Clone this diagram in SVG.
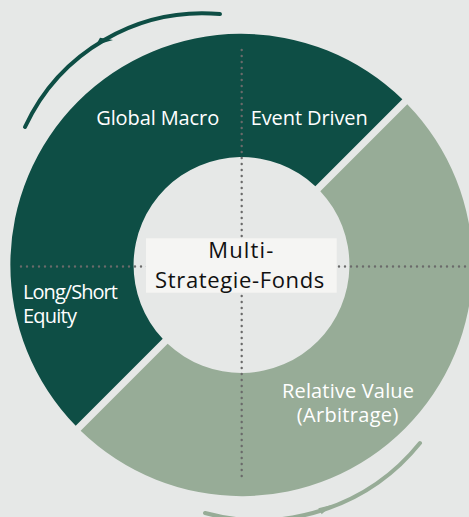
<svg xmlns="http://www.w3.org/2000/svg" width="469" height="517" viewBox="0 0 469 517">
  <style>
    .dark { fill: #0e4e45; }
    .light { fill: #97ac97; }
    .dots { fill: none; stroke: #6a6a6a; stroke-width: 2.4; stroke-linecap: round; stroke-dasharray: 0 6; }
    .label { font-family: "Open Sans", "Noto Sans", "Liberation Sans", sans-serif; font-size: 20px; fill: #ffffff; }
    .center { font-family: "Open Sans", "Noto Sans", "Liberation Sans", sans-serif; font-size: 22px; fill: #111111; text-anchor: middle; }
    .arc { fill: none; stroke-width: 4; stroke-linecap: round; }
  </style>
  <rect width="469" height="517" fill="#e6e8e7"/>

  <g id="connectors">
    <path class="arc" stroke="#0e4e45" d="M 25 127 A 196 196 0 0 1 220 14"/>
    <polygon fill="#0e4e45" points="100,37.7 96,45 113,40"/>
    <path class="arc" stroke="#97ac97" d="M 420 443 A 206.6 206.6 0 0 1 205 513"/>
    <polygon fill="#97ac97" points="318.3,508.3 321.7,514.3 331.7,505"/>
  </g>

  <g id="segment-dark">
    <path class="dark" d="M 402.35 99.2 A 231 231 0 0 0 75.7 425.85 L 162.7 338.85 A 108 108 0 0 1 315.35 186.2 Z"/>
  </g>
  <g id="segment-light">
    <path class="light" d="M 80.65 430.8 A 231 231 0 0 0 407.3 104.15 L 320.3 191.15 A 108 108 0 0 1 167.65 343.8 Z"/>
  </g>

  <g id="axes">
    <line class="dots" x1="241.7" y1="50" x2="241.7" y2="478"/>
    <line class="dots" x1="21" y1="266.5" x2="469" y2="266.5"/>
  </g>

  <g id="global-macro">
    <text class="label" x="157.7" y="125" text-anchor="middle" textLength="123">Global Macro</text>
  </g>
  <g id="event-driven">
    <text class="label" x="250.7" y="125" textLength="117">Event Driven</text>
  </g>
  <g id="long-short-equity">
    <text class="label" x="23" y="298.5" textLength="95">Long/Short</text>
    <text class="label" x="23" y="323" textLength="54">Equity</text>
  </g>
  <g id="relative-value">
    <text class="label" x="348" y="397.7" text-anchor="middle" textLength="132">Relative Value</text>
    <text class="label" x="347.5" y="422.3" text-anchor="middle" textLength="101.6">(Arbitrage)</text>
  </g>

  <g id="multi-strategie-fonds">
    <rect x="146" y="238.3" width="190.7" height="54.4" fill="#f5f5f3"/>
    <text class="center" x="240.8" y="258" textLength="65">Multi-</text>
    <text class="center" x="239.7" y="288" textLength="169.3">Strategie-Fonds</text>
  </g>
</svg>
